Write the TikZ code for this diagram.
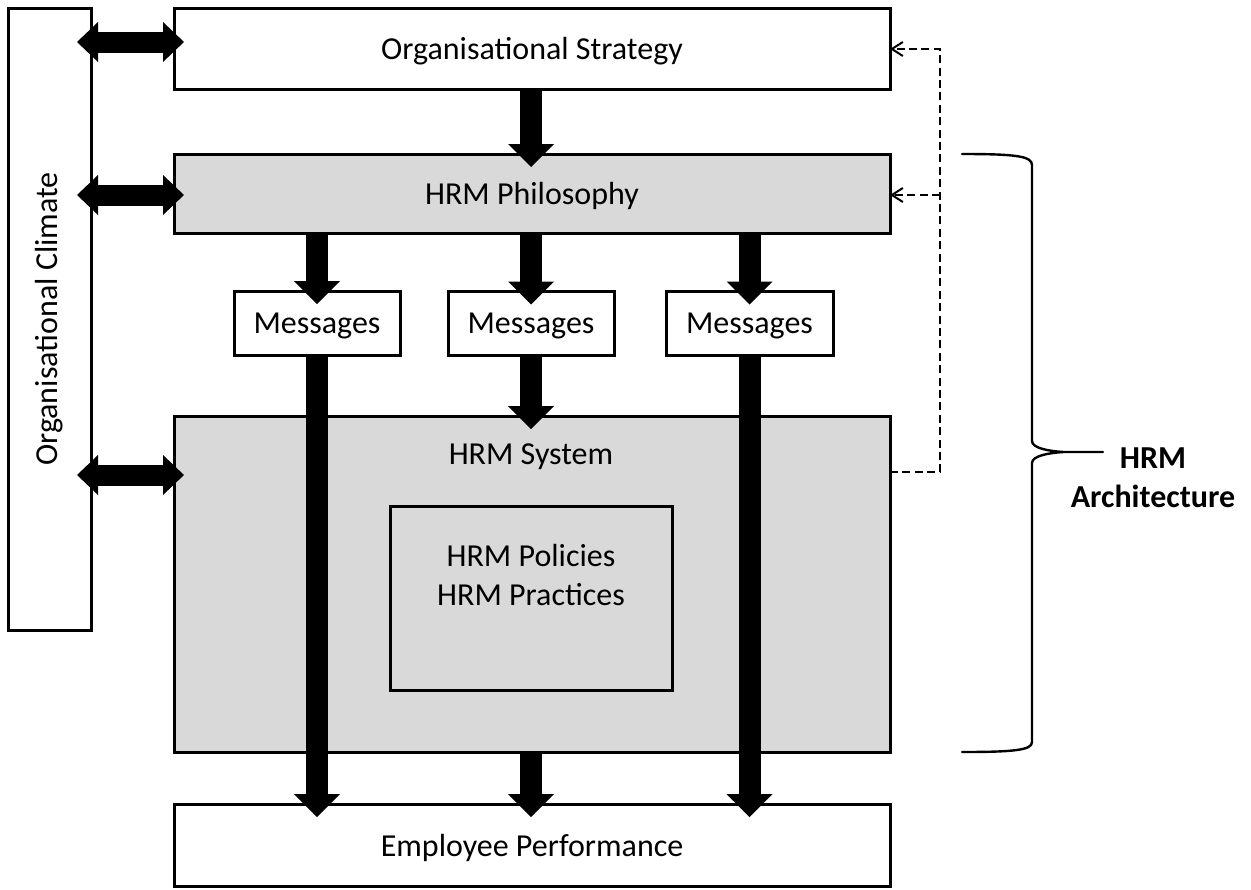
\documentclass[tikz,border=0pt]{standalone}
\usepackage{fontspec}
\setmainfont{Carlito}
\usetikzlibrary{arrows.meta}
\definecolor{panelgray}{HTML}{D9D9D9}
\begin{document}
\begin{tikzpicture}[x=0.5pt,y=-0.5pt,
  txt/.style={font=\fontsize{16pt}{19.5pt}\selectfont, inner sep=0pt},
  box/.style={draw=black, line width=1.5pt, fill=white, inner sep=0pt, outer sep=0pt,
    text depth=0pt, font=\fontsize{16pt}{19.5pt}\selectfont},
  graybox/.style={box, fill=panelgray},
  flow/.style={line width=11pt, draw=black,
    -{Triangle[length=11.5pt,width=23pt,line width=0pt]}},
  link/.style={line width=10.5pt, draw=black,
    {Triangle[length=10.5pt,width=20pt,line width=0pt]}-{Triangle[length=10.5pt,width=20pt,line width=0pt]}},
  feedback/.style={line width=1pt, dash pattern=on 4pt off 2.2pt,
    -{Straight Barb[length=5.5pt,width=7pt]}},
  brace/.style={line width=1.2pt, line cap=round, line join=round}
]
\useasboundingbox (0,0) rectangle (1251,889);

% boxes
\node[box, minimum width=41.5pt, minimum height=311pt] (clim) at (49.5,319) {};
\node[txt, rotate=90] (climtxt) at (clim.center) {Organisational Climate};

\node[box, minimum width=358pt, minimum height=40.5pt] (strat) at (532,48.5) {Organisational Strategy};
\node[graybox, minimum width=358pt, minimum height=39.5pt] (phil) at (532,193.5) {HRM Philosophy};

\node[box, minimum width=83pt, minimum height=32pt] (msg1) at (317,323) {Messages};
\node[box, minimum width=83pt, minimum height=32pt] (msg2) at (531,323.5) {Messages};
\node[box, minimum width=83.5pt, minimum height=32pt] (msg3) at (749.5,323.5) {Messages};

\node[graybox, minimum width=358pt, minimum height=168pt] (sys) at (532,584) {};
\node[txt] (systxt) at (531,457) {HRM System};
\node[graybox, minimum width=141pt, minimum height=92pt] (pol) at (531,598) {};
\node[txt, align=center] (poltxt) at (531,574.5) {HRM Policies\\HRM Practices};

\node[box, minimum width=358pt, minimum height=41pt] (ep) at (532,845) {Employee Performance};

% links to the climate box
\coordinate (ya) at (0,42);
\coordinate (yb) at (0,195);
\coordinate (yc) at (0,475);
\coordinate (la) at ([xshift=-7pt]clim.east |- ya);
\coordinate (lb) at ([xshift=-7pt]clim.east |- yb);
\coordinate (lc) at ([xshift=-7pt]clim.east |- yc);
\coordinate (ra) at ([xshift=5pt]strat.west |- ya);
\coordinate (rb) at ([xshift=5pt]phil.west |- yb);
\coordinate (rc) at ([xshift=5pt]sys.west |- yc);
\draw[link] (la) -- (ra);
\draw[link] (lb) -- (rb);
\draw[link] (lc) -- (rc);

% main flow
\draw[flow] (strat.south -| msg2.north) -- ([yshift=-6.5pt]phil.north -| msg2.north);
\draw[flow] (phil.south -| msg1.north) -- ([yshift=-6.5pt]msg1.north);
\draw[flow] (phil.south -| msg2.north) -- ([yshift=-6.5pt]msg2.north);
\draw[flow] (phil.south -| msg3.north) -- ([yshift=-6.5pt]msg3.north);
\draw[flow] (msg2.south) -- ([yshift=-6.5pt]sys.north -| msg2.south);
\draw[flow] (msg1.south) -- ([yshift=-6.5pt]ep.north -| msg1.south);
\draw[flow] (msg3.south) -- ([yshift=-6.5pt]ep.north -| msg3.south);
\draw[flow] (sys.south -| msg2.south) -- ([yshift=-6.5pt]ep.north -| msg2.south);

% feedback loop
\coordinate (fa) at (940,49);
\coordinate (fb) at (940,195);
\coordinate (fc) at (940,472);
\draw[feedback] (sys.east |- fc) -- (fc) -- (fa) -- (strat.east |- fa);
\draw[feedback] (fb) -- (phil.east |- fb);

% brace and its label
\coordinate (bt) at (1063,452);
\coordinate (bx) at (1103,452);
\draw[brace] (962,154) .. controls (1015,154) and (1032,156) .. (1032,165)
  -- (1032,441) .. controls (1032,448) and (1048,451) .. (bt) -- (bx);
\draw[brace] (bt) .. controls (1048,453) and (1032,456) .. (1032,463)
  -- (1032,742) .. controls (1032,750) and (1015,752) .. (962,752);
\node[txt, align=center, font=\fontsize{16pt}{19.5pt}\selectfont\bfseries] (arch) at (1153,477.5) {HRM\\Architecture};
\end{tikzpicture}
\end{document}
